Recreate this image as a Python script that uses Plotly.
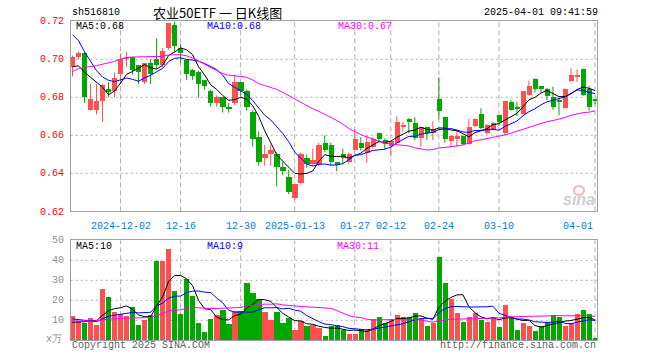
import plotly.graph_objects as go
import pandas as pd

# ---------------- data ----------------
dates = [
    "2024-11-20","2024-11-21","2024-11-22","2024-11-25","2024-11-26","2024-11-27","2024-11-28","2024-11-29",
    "2024-12-02","2024-12-03","2024-12-04","2024-12-05","2024-12-06","2024-12-09","2024-12-10","2024-12-11",
    "2024-12-12","2024-12-13","2024-12-16","2024-12-17","2024-12-18","2024-12-19","2024-12-20","2024-12-23",
    "2024-12-24","2024-12-25","2024-12-26","2024-12-27","2024-12-30","2024-12-31",
    "2025-01-02","2025-01-03","2025-01-06","2025-01-07","2025-01-08","2025-01-09","2025-01-10","2025-01-13",
    "2025-01-14","2025-01-15","2025-01-16","2025-01-17","2025-01-20","2025-01-21","2025-01-22","2025-01-23",
    "2025-01-24","2025-01-27",
    "2025-02-05","2025-02-06","2025-02-07","2025-02-10","2025-02-11","2025-02-12","2025-02-13","2025-02-14",
    "2025-02-17","2025-02-18","2025-02-19","2025-02-20","2025-02-21","2025-02-24","2025-02-25","2025-02-26",
    "2025-02-27","2025-02-28",
    "2025-03-03","2025-03-04","2025-03-05","2025-03-06","2025-03-07","2025-03-10","2025-03-11","2025-03-12",
    "2025-03-13","2025-03-14","2025-03-17","2025-03-18","2025-03-19","2025-03-20","2025-03-21","2025-03-24",
    "2025-03-25","2025-03-26","2025-03-27","2025-03-28","2025-03-31",
    "2025-04-01",
]

opens = [0.696,0.701,0.703,0.673,0.673,0.678,0.684,0.683,0.692,0.700,
         0.701,0.697,0.688,0.698,0.700,0.697,0.706,0.718,0.706,0.6995,
         0.694,0.693,0.689,0.683,0.677,0.680,0.675,0.677,0.688,0.683,
         0.672,0.659,0.648,0.650,0.650,0.643,0.638,0.627,0.635,0.648,
         0.645,0.645,0.656,0.655,0.646,0.650,0.646,0.652,0.656,0.6505,
         0.6535,0.661,0.6575,0.654,0.656,0.6646,0.6686,0.6663,0.6584,0.6642,
         0.6611,0.6789,0.6695,0.6567,0.6584,0.6593,0.6554,0.6646,0.6712,0.6611,
         0.6628,0.6703,0.6611,0.6774,0.6744,0.6712,0.6812,0.6896,0.6856,0.6844,
         0.6798,0.6781,0.6742,0.6882,0.6909,0.6949,0.6844,0.6784]
highs = [0.702,0.704,0.704,0.687,0.687,0.687,0.688,0.693,0.703,0.704,
         0.701,0.697,0.698,0.700,0.711,0.706,0.719,0.720,0.708,0.700,
         0.695,0.694,0.689,0.684,0.681,0.680,0.677,0.692,0.688,0.684,
         0.673,0.662,0.655,0.655,0.651,0.646,0.642,0.634,0.651,0.650,
         0.653,0.656,0.660,0.656,0.646,0.653,0.651,0.663,0.659,0.660,
         0.659,0.661,0.6584,0.657,0.670,0.6672,0.669,0.6695,0.6645,0.6645,
         0.6675,0.6905,0.6698,0.660,0.6628,0.660,0.6686,0.669,0.6742,0.666,
         0.667,0.6705,0.6777,0.6786,0.6777,0.683,0.6888,0.690,0.686,0.685,
         0.6856,0.680,0.6847,0.6953,0.6947,0.695,0.6861,0.6786]
lows = [0.691,0.700,0.677,0.673,0.671,0.667,0.680,0.680,0.687,0.696,
        0.692,0.687,0.687,0.687,0.695,0.696,0.705,0.704,0.698,0.689,
        0.689,0.680,0.684,0.675,0.675,0.672,0.672,0.676,0.681,0.673,
        0.654,0.644,0.644,0.644,0.633,0.639,0.629,0.626,0.634,0.643,
        0.644,0.644,0.651,0.644,0.641,0.645,0.645,0.652,0.652,0.6456,
        0.653,0.656,0.6526,0.649,0.6555,0.6619,0.661,0.6575,0.654,0.6575,
        0.6575,0.6684,0.6561,0.654,0.654,0.6549,0.655,0.6642,0.663,0.6605,
        0.6625,0.665,0.660,0.673,0.6702,0.671,0.681,0.6825,0.6825,0.6784,
        0.6735,0.6705,0.674,0.688,0.6882,0.6807,0.673,0.6763]
closes = [0.701,0.703,0.680,0.679,0.678,0.6865,0.683,0.690,0.700,0.701,
          0.694,0.693,0.698,0.692,0.697,0.704,0.719,0.707,0.703,0.692,
          0.691,0.687,0.686,0.677,0.680,0.675,0.674,0.688,0.683,0.675,
          0.658,0.646,0.650,0.652,0.643,0.641,0.630,0.634,0.650,0.645,
          0.647,0.655,0.652,0.646,0.644,0.648,0.650,0.658,0.653,0.6565,
          0.658,0.658,0.6554,0.6567,0.6667,0.6653,0.6667,0.6584,0.6642,0.6611,
          0.6632,0.6725,0.6579,0.6593,0.6593,0.6554,0.6642,0.6686,0.6637,0.6654,
          0.6663,0.6668,0.6777,0.6733,0.6737,0.683,0.6856,0.6844,0.6844,0.6807,
          0.6746,0.6777,0.6844,0.6918,0.6918,0.6812,0.6746,0.6782]
volumes = [12.2,9.7,8.7,11.2,7.3,25.3,21.3,14.2,13.2,12.2,
           16.3,7.3,10.2,12.7,39.3,39.3,45.7,24.7,13.2,30.7,
           22.2,8.7,4.2,10.7,12.7,15.2,8.2,14.7,14.3,28.7,
           23.7,20.7,14.2,9.8,14.2,8.7,11.2,5.2,9.3,6.8,
           7.7,6.2,2.2,7.2,7.3,5.2,2.8,3.2,5.5,5.2,
           10.7,11.7,8.7,10.7,12.7,11.7,11.7,13.7,11.2,7.2,
           8.7,41.7,28.7,20.7,13.7,9.2,11.7,13.7,10.2,9.2,
           11.7,6.7,17.7,11.2,5.2,8.7,7.2,4.7,7.2,9.2,
           12.7,11.7,7.2,8.7,13.2,15.2,13.2,0.7]

# estimated sessions before the visible window (needed for the moving averages)
prior_closes = [0.655,0.660,0.668,0.662,0.664,0.666,0.663,0.666,
                0.675,0.684,0.690,0.694,0.697,0.695,0.698,0.697,0.699,
                0.705,0.712,0.725,
                0.735,0.738,0.732,0.725,0.720,
                0.700,0.697,0.692,0.690]
prior_volumes = [8,10,9,11,8,9,10,8,9,10,9,8,10,11,9,8,10,9,9,9,
                 14,13,12,12,11,
                 9,8,8,7.8]

tick_dates = ["2024-12-02","2024-12-16","2024-12-30","2025-01-13","2025-01-27",
              "2025-02-12","2025-02-24","2025-03-10","2025-04-01"]
tick_labels = ["2024-12-02","12-16","12-30","2025-01-13","01-27","02-12","02-24","03-10","04-01"]
price_ticks = [0.62,0.64,0.66,0.68,0.70,0.72]
vol_ticks = [10,20,30,40,50]
price_legend = ["MA5:0.68","MA10:0.68","MA30:0.67"]
vol_legend = ["MA5:10","MA10:9","MA30:11"]

# ---------------- styling ----------------
RED = "#ff5050"
GREEN = "#00a800"
MA_COLORS = ["#000000", "#0000ff", "#ff00ff"]
FRAME = "#a0a0a0"
GRID = "#b0b0b0"
MONO = "Liberation Mono"
W, H = 660, 360

n = len(closes)
idx = list(range(n))
up = [c >= o for o, c in zip(opens, closes)]
colors = [RED if u else GREEN for u in up]

allc = pd.Series(prior_closes + closes)
allv = pd.Series(prior_volumes + volumes)
p = len(prior_closes)
ma_p = [allc.rolling(k).mean().tolist()[p:] for k in (5, 10, 30)]
ma_v = [allv.rolling(k).mean().tolist()[p:] for k in (5, 10, 30)]

fig = go.Figure()

# wicks
for col, flag in ((RED, True), (GREEN, False)):
    xs, ys = [], []
    for i in idx:
        if up[i] == flag:
            xs += [i, i, None]
            ys += [lows[i], highs[i], None]
    fig.add_trace(go.Scatter(x=xs, y=ys, mode="lines", line=dict(color=col, width=1),
                             hoverinfo="skip", showlegend=False, xaxis="x", yaxis="y"))

# bodies
base = [min(o, c) for o, c in zip(opens, closes)]
hgt = [max(abs(c - o), 0.0005) for o, c in zip(opens, closes)]
fig.add_trace(go.Bar(x=idx, y=hgt, base=base, width=0.85, marker=dict(color=colors, line=dict(width=0)),
                     showlegend=False, xaxis="x", yaxis="y"))

for m, col in zip(ma_p, MA_COLORS):
    fig.add_trace(go.Scatter(x=idx, y=m, mode="lines", line=dict(color=col, width=1),
                             showlegend=False, xaxis="x", yaxis="y"))

# volume
fig.add_trace(go.Bar(x=idx, y=volumes, width=0.85, marker=dict(color=colors, line=dict(width=0)),
                     showlegend=False, xaxis="x2", yaxis="y2"))
for m, col in zip(ma_v, MA_COLORS):
    fig.add_trace(go.Scatter(x=idx, y=m, mode="lines", line=dict(color=col, width=1),
                             showlegend=False, xaxis="x2", yaxis="y2"))

# geometry (pixels -> paper)
xl, xr = 70.7, 597.3
py_top, py_bot = 21.3, 211.3
vy_top, vy_bot = 240.3, 340.3
xdom = [xl / W, xr / W]
xrange_ = [-0.30, 87.38]

def fy(px):
    return 1 - px / H

axis_common = dict(showline=True, mirror=True, linecolor=FRAME, linewidth=1, showgrid=False,
                   zeroline=False, ticks="", showticklabels=False, fixedrange=True)

fig.update_layout(
    width=W, height=H, margin=dict(l=0, r=0, t=0, b=0),
    paper_bgcolor="white", plot_bgcolor="white", showlegend=False,
    xaxis=dict(domain=xdom, range=xrange_, anchor="y", **axis_common),
    yaxis=dict(domain=[fy(py_bot), fy(py_top)], range=[0.62, 0.72], anchor="x", **axis_common),
    xaxis2=dict(domain=xdom, range=xrange_, anchor="y2", **axis_common),
    yaxis2=dict(domain=[fy(vy_bot), fy(vy_top)], range=[0, 50], anchor="x2", **axis_common),
    bargap=0,
)

shapes = []
tick_idx = [dates.index(d) for d in tick_dates]
for ti in tick_idx:
    for xa, ya in (("x", "y domain"), ("x2", "y2 domain")):
        shapes.append(dict(type="line", xref=xa, yref=ya, x0=ti, x1=ti, y0=0, y1=1,
                           line=dict(color=GRID, width=1, dash="5px,3px"), layer="below"))
for v in price_ticks[1:-1]:
    shapes.append(dict(type="line", xref="x domain", yref="y", x0=0, x1=1, y0=v, y1=v,
                       line=dict(color=GRID, width=1, dash="2px,3px"), layer="below"))
for v in vol_ticks[:-1]:
    shapes.append(dict(type="line", xref="x2 domain", yref="y2", x0=0, x1=1, y0=v, y1=v,
                       line=dict(color=GRID, width=1, dash="2px,3px"), layer="below"))
# small colour squares next to the price legend
shapes.append(dict(type="rect", xref="paper", yref="paper", x0=166.5 / W, x1=171.5 / W,
                   y0=fy(33.5), y1=fy(26.5), fillcolor=RED, line=dict(width=0)))
shapes.append(dict(type="rect", xref="paper", yref="paper", x0=172.5 / W, x1=177 / W,
                   y0=fy(33.5), y1=fy(28.5), fillcolor=GREEN, line=dict(width=0)))
# sina watermark eye
shapes.append(dict(type="circle", xref="paper", yref="paper", x0=574 / W, x1=584 / W,
                   y0=fy(195), y1=fy(186), line=dict(color="#f2b8b8", width=2)))
fig.update_layout(shapes=shapes)

ann = []

def txt(x, y, s, color="#000", size=10, family=MONO, xanchor="left", **kw):
    ann.append(dict(x=x / W, y=fy(y), xref="paper", yref="paper", text=s, showarrow=False,
                    xanchor=xanchor, yanchor="middle", font=dict(color=color, size=size, family=family), **kw))

txt(70, 13, "sh516810", size=10)
txt(151, 12.5, "农业50ETF 一 日K线图", size=13, family="Noto Sans CJK SC")
txt(600, 13, "2025-04-01 09:41:59", xanchor="right", size=10)

for s, x, c in zip(price_legend, (74, 205, 336), MA_COLORS):
    txt(x, 27, s, color=c)
for s, x, c in zip(vol_legend, (74, 205, 335), MA_COLORS):
    txt(x, 246.5, s, color=c)

for v in price_ticks:
    ypx = py_bot - (v - 0.62) / 0.10 * (py_bot - py_top)
    txt(66, ypx + (1 if v == 0.62 else 0), f"{v:.2f}", color="#ff0000", xanchor="right")
for v in vol_ticks:
    ypx = vy_bot - v / 50 * (vy_bot - vy_top)
    txt(66, ypx, str(v), color="#909090", xanchor="right")
txt(64, 339, "x万", color="#909090", xanchor="right", size=10)

px_per = (xr - xl) / (xrange_[1] - xrange_[0])
for ti, lab in zip(tick_idx, tick_labels):
    xpx = xl + (ti - xrange_[0]) * px_per
    if ti == n - 1:
        txt(xpx, 226, lab, color="#0080e0", xanchor="right")
    else:
        txt(xpx, 226, lab, color="#0080e0", xanchor="center")

txt(70, 345.5, "Copyright 2025 SINA.COM", color="#606060")
txt(597.5, 345.5, "http://finance.sina.com.cn", color="#606060", xanchor="right")
txt(597, 199, "<b><i>sina</i></b>", color="#cfcfcf", size=16, family="Liberation Sans", xanchor="right")

fig.update_layout(annotations=ann)
fig.write_html("out.html", config={"displayModeBar": False},
               post_script="document.body.style.margin='0';document.body.style.overflow='hidden';")
